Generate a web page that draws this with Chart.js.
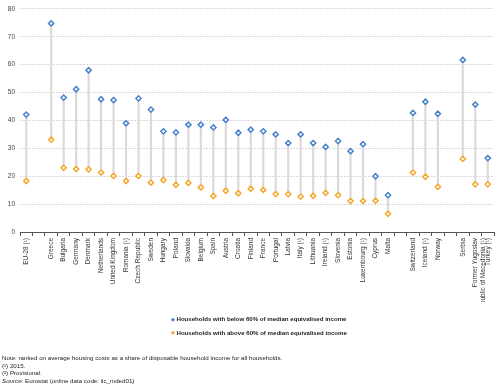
<!DOCTYPE html>
<html>
<head>
<meta charset="utf-8">
<script src="https://cdn.jsdelivr.net/npm/chart.js@4.4.1/dist/chart.umd.min.js"></script>
<style>
  html, body { margin: 0; padding: 0; background: #fff; }
  #wrap { position: relative; width: 500px; height: 387px; font-family: "Liberation Sans", Arial, sans-serif; }
  canvas { position: absolute; left: 0; top: 0; }
  .leg { position: absolute; left: 171px; font-size: 6.1px; font-weight: bold; color: #222; white-space: nowrap; }
  .leg span.m { display: inline-block; font-size: 5px; margin-right: 1.5px; vertical-align: 0.3px; }
  .notes { position: absolute; left: 2px; top: 354px; font-size: 6.2px; line-height: 7.6px; color: #222; }
</style>
</head>
<body>
<div id="wrap">
  <canvas id="c" width="500" height="387"></canvas>
  <div class="leg" style="top:315px"><span class="m" style="color:#4a83cc">&#9670;</span>Households with below 60% of median equivalised income</div>
  <div class="leg" style="top:328.5px"><span class="m" style="color:#f5a931">&#9670;</span>Households with above 60% of median equivalised income</div>
  <div class="notes">
    Note: ranked on average housing costs as a share of disposable household income for all households.<br>
    (&sup1;) 2015.<br>
    (&sup2;) Provisional.<br>
    <i>Source:</i> Eurostat (online data code: ilc_mded01)
  </div>
</div>
<script>
const categories = [
  "EU-28 (\u00b9)", "", "Greece", "Bulgaria", "Germany", "Denmark", "Netherlands", "United Kingdom",
  "Romania (\u00b9)", "Czech Republic", "Sweden", "Hungary", "Poland", "Slovakia", "Belgium", "Spain",
  "Austria", "Croatia", "Finland", "France", "Portugal", "Latvia", "Italy (\u00b9)", "Lithuania",
  "Ireland (\u00b9)", "Slovenia", "Estonia", "Luxembourg (\u00b9)", "Cyprus", "Malta", "",
  "Switzerland", "Iceland (\u00b9)", "Norway", "", "Serbia",
  ["Former Yugoslav", "Republic of Macedonia (\u00b9)"], "Turkey (\u00b9)"
];
const below60 = [
  42.1, null, 74.8, 48.2, 51.2, 58.0, 47.6, 47.3,
  39.0, 47.9, 43.9, 36.1, 35.7, 38.5, 38.5, 37.5,
  40.2, 35.6, 36.7, 36.1, 35.0, 31.9, 35.0, 31.9,
  30.5, 32.6, 29.0, 31.5, 20.0, 13.2, null,
  42.7, 46.7, 42.4, null, 61.7,
  45.7, 26.5
];
const above60 = [
  18.3, null, 33.1, 23.0, 22.6, 22.4, 21.3, 20.1,
  18.3, 20.1, 17.7, 18.6, 16.9, 17.6, 16.0, 12.9,
  14.8, 13.9, 15.5, 15.1, 13.6, 13.6, 12.7, 13.0,
  14.0, 13.2, 11.1, 11.1, 11.2, 6.5, null,
  21.3, 19.8, 16.2, null, 26.2,
  17.1, 17.1
];
const yTicks = [0, 10, 20, 30, 40, 50, 60, 70, 80];

const ranges = below60.map((b, i) => (b === null || above60[i] === null) ? null : [above60[i], b]);

new Chart(document.getElementById('c'), {
  data: {
    labels: categories,
    datasets: [
      {
        type: 'bar', label: 'range', data: ranges,
        backgroundColor: '#dadada', borderWidth: 0, barThickness: 1.5, order: 3
      },
      {
        type: 'line', label: 'Households with below 60% of median equivalised income', data: below60,
        showLine: false, pointStyle: 'rectRot', pointRadius: 2.6, pointBorderWidth: 1.5,
        borderColor: '#4a83cc', pointBackgroundColor: '#ffffff', backgroundColor: '#4a83cc', order: 1
      },
      {
        type: 'line', label: 'Households with above 60% of median equivalised income', data: above60,
        showLine: false, pointStyle: 'rectRot', pointRadius: 2.6, pointBorderWidth: 1.5,
        borderColor: '#f5a931', pointBackgroundColor: '#ffffff', backgroundColor: '#f5a931', order: 2
      }
    ]
  },
  options: {
    responsive: false,
    animation: false,
    layout: { padding: { left: 0, right: 6, top: 8, bottom: 85 } },
    plugins: { legend: { display: false }, tooltip: { enabled: false } },
    scales: {
      x: {
        type: 'category',
        offset: true,
        border: { display: true, color: '#555', width: 1 },
        grid: { display: true, offset: true, drawOnChartArea: false, drawTicks: true, tickLength: 4, color: '#555' },
        ticks: {
          autoSkip: false, minRotation: 90, maxRotation: 90, padding: 2,
          color: '#333', font: { family: 'Liberation Sans, Arial, sans-serif', size: 6.5 }
        },
        afterFit(scale) { scale.height = 70; }
      },
      y: {
        min: 0, max: 80,
        afterBuildTicks(scale) { scale.ticks = yTicks.map(v => ({ value: v })); },
        border: { display: false, dash: [2, 1] },
        grid: { color: '#d0d0d0', lineWidth: 0.8, drawTicks: false },
        ticks: { padding: 5, color: '#444', font: { family: 'Liberation Sans, Arial, sans-serif', size: 6.5 } },
        afterFit(scale) { scale.width = 20; }
      }
    }
  }
});
</script>
</body>
</html>
